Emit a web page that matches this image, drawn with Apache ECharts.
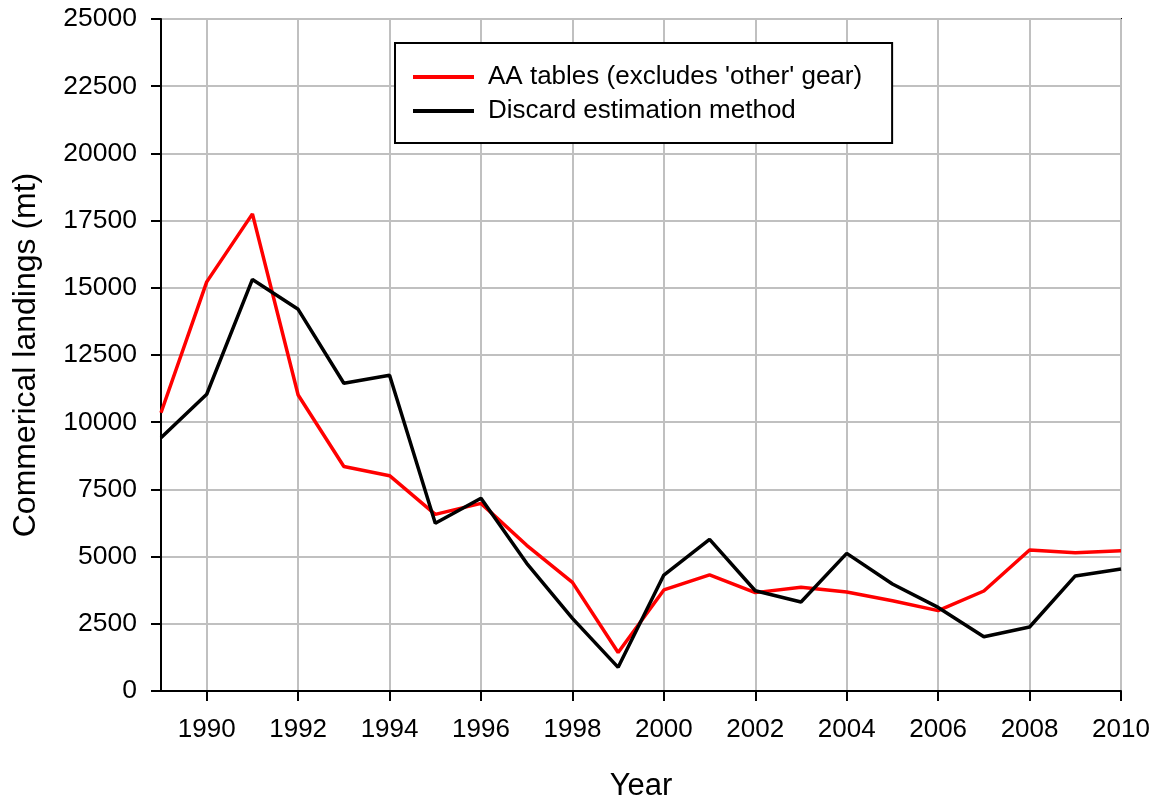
<!DOCTYPE html>
<html>
<head>
<meta charset="utf-8">
<script src="https://cdn.jsdelivr.net/npm/echarts@6/dist/echarts.min.js"></script>
<style>
  html, body { margin: 0; padding: 0; background: #fff; }
  #chart { width: 1156px; height: 800px; }
</style>
</head>
<body>
<div id="chart"></div>
<script>
const years = ['1989', '1990', '1991', '1992', '1993', '1994', '1995', '1996', '1997', '1998', '1999',
  '2000', '2001', '2002', '2003', '2004', '2005', '2006', '2007', '2008', '2009', '2010']
// AA tables (excludes 'other' gear)
const aaTables = [10350, 15220, 17750, 11010, 8350, 8010, 6570, 6980, 5420, 4040, 1430,
  3760, 4320, 3660, 3860, 3680, 3360, 2990, 3720, 5245, 5140, 5220]
// Discard estimation method
const discardMethod = [9420, 11040, 15310, 14200, 11450, 11750, 6240, 7170, 4750, 2700, 880,
  4315, 5640, 3730, 3310, 5120, 3980, 3110, 2020, 2380, 4280, 4540]
const yTicks = { min: 0, max: 25000, step: 2500 }

const fontFamily = '"Liberation Sans", Arial, sans-serif'
const evenYear = function (idx, val) { return Number(val) % 2 === 0 }

const option = {
  animation: false,
  textStyle: { fontFamily: fontFamily },
  grid: {
    left: 161,
    right: 35,
    top: 19,
    bottom: 109,
    containLabel: false,
    outerBoundsMode: 'none',
    show: true,
    borderColor: '#000',
    borderWidth: 2
  },
  legend: {
    orient: 'vertical',
    left: 395,
    top: 43,
    padding: [21, 30, 19, 18],
    itemGap: 8,
    itemWidth: 61,
    itemHeight: 4,
    icon: 'rect',
    borderColor: '#000',
    borderWidth: 2,
    backgroundColor: '#fff',
    textStyle: { fontSize: 26, color: '#000', padding: [0, 0, 0, 9], fontFamily: fontFamily },
    data: ["AA tables (excludes 'other' gear)", 'Discard estimation method']
  },
  xAxis: {
    type: 'category',
    data: years,
    boundaryGap: false,
    name: 'Year',
    nameLocation: 'middle',
    nameGap: 80,
    nameTextStyle: { fontSize: 31, color: '#000' },
    axisLine: { lineStyle: { color: '#000', width: 2 } },
    axisTick: { show: true, inside: false, length: 10, interval: evenYear, lineStyle: { color: '#000', width: 2 } },
    axisLabel: { interval: evenYear, fontSize: 26, color: '#000', margin: 26 },
    splitLine: { show: true, interval: evenYear, lineStyle: { color: '#c0c0c0', width: 2 } }
  },
  yAxis: {
    type: 'value',
    min: yTicks.min,
    max: yTicks.max,
    interval: yTicks.step,
    name: 'Commerical landings (mt)',
    nameLocation: 'middle',
    nameGap: 119,
    nameTextStyle: { fontSize: 32, color: '#000' },
    axisLine: { show: true, lineStyle: { color: '#000', width: 2 } },
    axisTick: { show: true, inside: false, length: 10, lineStyle: { color: '#000', width: 2 } },
    axisLabel: { fontSize: 26.5, color: '#000', margin: 24, formatter: function (v) { return String(v) } },
    splitLine: { show: true, lineStyle: { color: '#c0c0c0', width: 2 } }
  },
  series: [
    {
      name: "AA tables (excludes 'other' gear)",
      type: 'line',
      data: aaTables,
      showSymbol: false,
      color: '#ff0000',
      lineStyle: { width: 3.5, color: '#ff0000' }
    },
    {
      name: 'Discard estimation method',
      type: 'line',
      data: discardMethod,
      showSymbol: false,
      color: '#000000',
      lineStyle: { width: 3.5, color: '#000000' }
    }
  ]
}

const myChart = echarts.init(document.getElementById('chart'))
myChart.setOption(option)
</script>
</body>
</html>
